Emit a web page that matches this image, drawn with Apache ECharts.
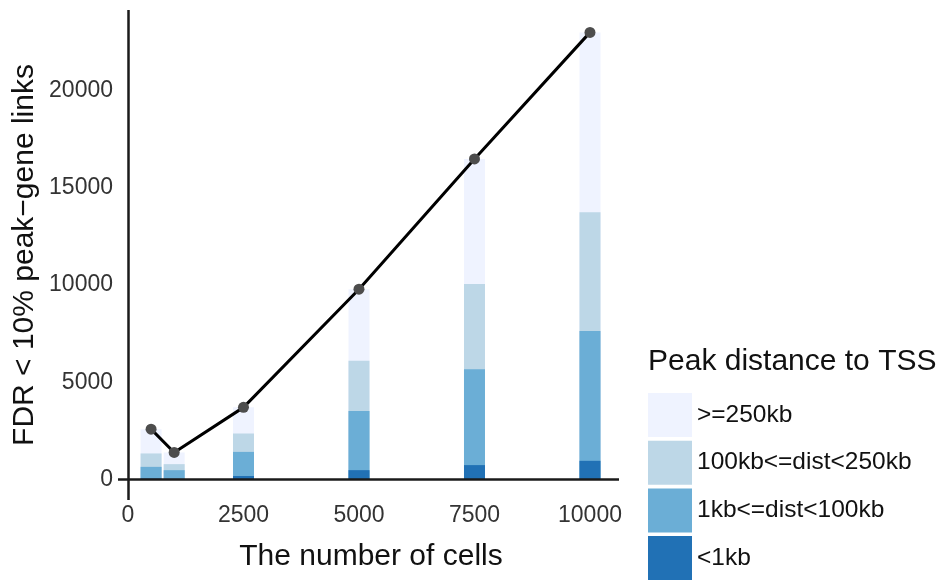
<!DOCTYPE html>
<html>
<head>
<meta charset="utf-8">
<script src="https://cdn.jsdelivr.net/npm/echarts@6/dist/echarts.min.js"></script>
<style>
  html, body { margin: 0; padding: 0; background: #fff; }
  #chart { width: 940px; height: 581px; }
</style>
</head>
<body>
<div id="chart"></div>
<script>
// Number of cells per subsample
const cellCounts = [500, 1000, 2500, 5000, 7500, 10000];

// Peak-gene links (FDR < 10%) split by peak distance to TSS
const lt1kb      = [50, 30, 180, 480, 740, 960];
const kb1to100   = [600, 450, 1240, 3040, 4930, 6680];
const kb100to250 = [690, 310, 950, 2590, 4390, 6110];
const ge250kb    = [1250, 600, 1340, 3680, 6430, 9250];

// Total links per subsample
const totals = [2590, 1390, 3710, 9790, 16490, 23000];

// Bottom-to-top order of the stacked segments
const categoryNames = ['<1kb', '1kb<=dist<100kb', '100kb<=dist<250kb', '>=250kb'];
const categoryValues = [lt1kb, kb1to100, kb100to250, ge250kb];
const categoryColors = ['#2171B5', '#6BAED6', '#BDD7E7', '#EFF3FF'];

const xTicks = [0, 2500, 5000, 7500, 10000];
const yTicks = [0, 5000, 10000, 15000, 20000];

const FONT = '"Liberation Sans", Arial, Helvetica, sans-serif';

// Running tops of each segment; the bars are layered with the tallest at the back
const cumulative = [];
categoryValues.forEach((vals, i) => {
  cumulative.push(vals.map((v, j) => v + (i > 0 ? cumulative[i - 1][j] : 0)));
});

const barSeries = [];
for (let i = categoryNames.length - 1; i >= 0; i--) {
  barSeries.push({
    name: categoryNames[i],
    type: 'bar',
    barWidth: 21,
    barGap: '-100%',
    itemStyle: { color: categoryColors[i] },
    data: cellCounts.map((c, j) => [c, cumulative[i][j]]),
    z: 2
  });
}

const chart = echarts.init(document.getElementById('chart'), null, { renderer: 'canvas' });

chart.setOption({
  animation: false,
  backgroundColor: '#ffffff',
  grid: { left: 118, right: 321, top: 10, bottom: 81 },
  xAxis: {
    type: 'value',
    min: -216,
    max: 10628,
    splitLine: { show: false },
    axisLine: { show: false },
    axisTick: { show: false },
    axisLabel: {
      customValues: xTicks,
      formatter: v => String(v),
      margin: 4,
      color: '#333333',
      fontSize: 23,
      fontFamily: FONT
    }
  },
  yAxis: {
    type: 'value',
    min: -1055,
    max: 24151,
    splitLine: { show: false },
    axisLine: { show: false },
    axisTick: { show: false },
    axisLabel: {
      customValues: yTicks,
      formatter: v => String(v),
      margin: 5,
      color: '#333333',
      fontSize: 23,
      fontFamily: FONT
    }
  },
  legend: {
    orient: 'vertical',
    left: 648,
    top: 393,
    itemWidth: 44,
    itemHeight: 44,
    itemGap: 3.7,
    icon: 'rect',
    padding: 0,
    data: ['>=250kb', '100kb<=dist<250kb', '1kb<=dist<100kb', '<1kb'],
    textStyle: { fontSize: 24.5, color: '#111111', fontFamily: FONT }
  },
  graphic: [
    {
      type: 'text',
      x: 648,
      y: 362,
      style: {
        text: 'Peak distance to TSS',
        fontSize: 30, fill: '#111111', fontFamily: FONT,
        align: 'left', verticalAlign: 'middle'
      }
    },
    {
      type: 'text',
      x: 371,
      y: 557,
      style: {
        text: 'The number of cells',
        fontSize: 30, fill: '#111111', fontFamily: FONT,
        align: 'center', verticalAlign: 'middle'
      }
    },
    {
      type: 'text',
      x: 25,
      y: 255,
      rotation: Math.PI / 2,
      style: {
        text: 'FDR < 10% peak\u2212gene links',
        fontSize: 30, fill: '#111111', fontFamily: FONT,
        align: 'center', verticalAlign: 'middle'
      }
    }
  ],
  series: barSeries.concat([
    {
      name: 'Total',
      type: 'line',
      data: cellCounts.map((c, j) => [c, totals[j]]),
      symbol: 'circle',
      symbolSize: 11,
      lineStyle: { color: '#000000', width: 3 },
      itemStyle: { color: '#4D4D4D' },
      z: 5,
      markLine: {
        silent: true,
        symbol: ['none', 'none'],
        label: { show: false },
        lineStyle: { color: '#1a1a1a', width: 2.5, type: 'solid' },
        data: [{ yAxis: 0 }, { xAxis: 0 }],
        z: 4
      }
    }
  ])
});
</script>
</body>
</html>
